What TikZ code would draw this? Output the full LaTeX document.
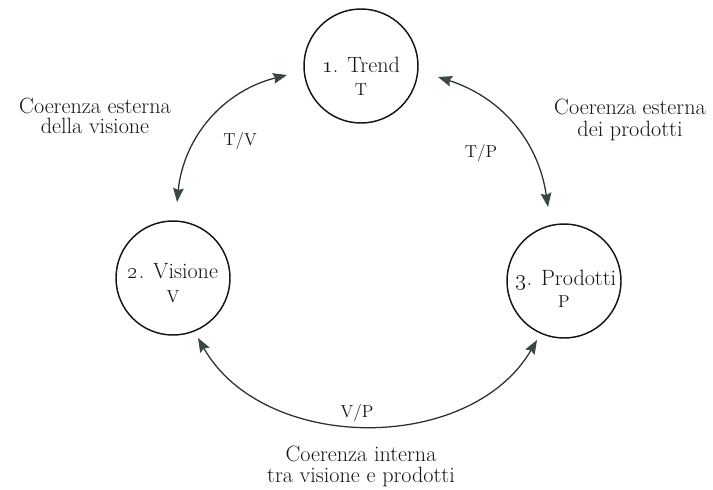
\documentclass[tikz,border=0pt]{standalone}
\usetikzlibrary{arrows.meta}
\definecolor{ink}{HTML}{151515}
\definecolor{arrc}{HTML}{3A4746}
\definecolor{linec}{HTML}{2A2F2F}
\begin{document}
\begin{tikzpicture}[x=0.75pt,y=-0.75pt,
  circ/.style={draw=ink,line width=1.1pt,circle,minimum size=85.5pt,inner sep=0pt},
  big/.style={text=ink,align=center,font=\fontsize{16.6}{18}\selectfont},
  small/.style={text=ink,font=\fontsize{13}{15}\selectfont},
  conn/.style={draw=linec,line width=0.95pt,
    {Stealth[length=10.5pt,width=8pt,inset=1.5pt,fill=arrc,color=arrc]}-{Stealth[length=10.5pt,width=8pt,inset=1.5pt,fill=arrc,color=arrc]}}]
\useasboundingbox (0,0) rectangle (713,489);
% circles
\node[circ] (T) at (361,66) {};
\node[circ] (V) at (173,278) {};
\node[circ] (P) at (564,281) {};
% circle texts
\node[big,anchor=base] (Tn) at (361,72) {\oldstylenums{1}. Trend};
\node[small,anchor=base] (Ts) at (361,95) {T};
\node[big,anchor=base] (Vn) at (173,278) {\oldstylenums{2}. Visione};
\node[small,anchor=base] (Vs) at (173,302) {V};
\node[big,anchor=base] (Pn) at (566,285) {\oldstylenums{3}. Prodotti};
\node[small,anchor=base] (Ps) at (564,307) {P};
% arrow end points
\coordinate (tv1) at (287,75);
\coordinate (tv2) at (177,202);
\coordinate (tp1) at (438,77);
\coordinate (tp2) at (548,207);
\coordinate (vp1) at (198,338);
\coordinate (vp2) at (537,340);
\draw[conn] (tv1) to[bend right=35] (tv2);
\draw[conn] (tp1) to[bend left=32] (tp2);
\draw[conn] (vp1) to[bend right=60] (vp2);
% connector labels
\node[small,anchor=base] (lTV) at (240,145) {T/V};
\node[small,anchor=base] (lTP) at (481,157) {T/P};
\node[small,anchor=base] (lVP) at (357,417) {V/P};
% descriptions
\node[big,anchor=base] (dL1) at (95,113) {Coerenza esterna};
\node[big,anchor=base] (dL2) at (95,133) {della visione};
\node[big,anchor=base] (dR1) at (630,114) {Coerenza esterna};
\node[big,anchor=base] (dR2) at (630,136) {dei prodotti};
\node[big,anchor=base] (dB1) at (361,461) {Coerenza interna};
\node[big,anchor=base] (dB2) at (361,482) {tra visione e prodotti};
\end{tikzpicture}
\end{document}
